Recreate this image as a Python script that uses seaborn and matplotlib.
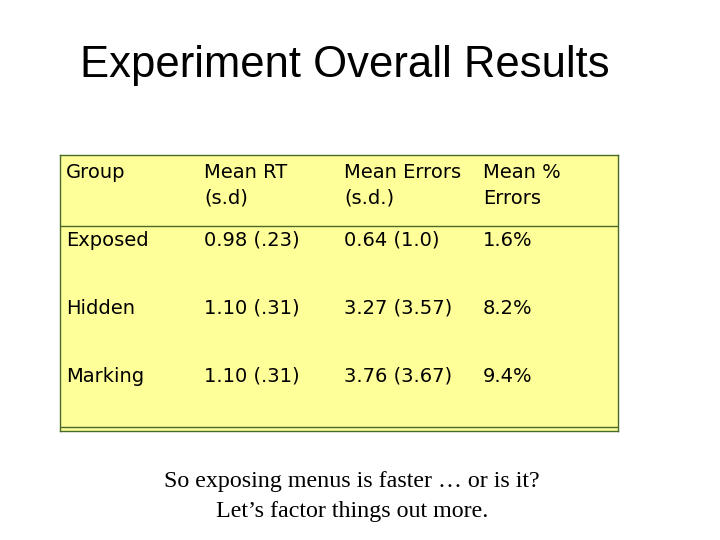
import matplotlib

matplotlib.use("Agg")
import matplotlib.pyplot as plt
import seaborn as sns

sns.set_theme(style="white")

header = [["Group", ""], ["Mean RT", "(s.d)"], ["Mean Errors", "(s.d.)"], ["Mean %", "Errors"]]
groups = ["Exposed", "Hidden", "Marking"]
mean_rt = ["0.98 (.23)", "1.10 (.31)", "1.10 (.31)"]
mean_errors = ["0.64 (1.0)", "3.27 (3.57)", "3.76 (3.67)"]
pct_errors = ["1.6%", "8.2%", "9.4%"]

col_x = [66, 204, 344, 483]
row_y = [240, 308, 376]

fig = plt.figure(figsize=(7.2, 5.4), dpi=100)
fig.patch.set_facecolor("white")
fig.text(80 / 720, 1 - 66 / 540, "Experiment Overall Results", fontsize=31.4,
         family="Liberation Sans", va="center", ha="left", color="black")

ax = fig.add_axes([60 / 720, 1 - 431 / 540, 558 / 720, 276 / 540])
ax.set_facecolor("#FFFF99")
ax.set_xlim(60, 618)
ax.set_ylim(431, 155)
ax.set_xticks([])
ax.set_yticks([])
for s in ax.spines.values():
    s.set_color("#4a6a2a")
    s.set_linewidth(1.0)
ax.axhline(226, color="#4a6a2a", lw=1.0)
ax.axhline(427, color="#4a6a2a", lw=1.0)

font = dict(fontsize=14, family="DejaVu Sans", va="center", ha="left", color="black")
for x, (l1, l2) in zip(col_x, header):
    ax.text(x, 172, l1, **font)
    ax.text(x, 198, l2, **font)
for y, g, rt, er, pc in zip(row_y, groups, mean_rt, mean_errors, pct_errors):
    for x, t in zip(col_x, [g, rt, er, pc]):
        ax.text(x, y, t, **font)

fig.text(352 / 720, 1 - 482 / 540, "So exposing menus is faster \u2026 or is it?", fontsize=17.3,
         family="Liberation Serif", ha="center", va="center", color="black")
fig.text(352 / 720, 1 - 512 / 540, "Let\u2019s factor things out more.", fontsize=17.3,
         family="Liberation Serif", ha="center", va="center", color="black")

fig.savefig("out.png", dpi=100)
